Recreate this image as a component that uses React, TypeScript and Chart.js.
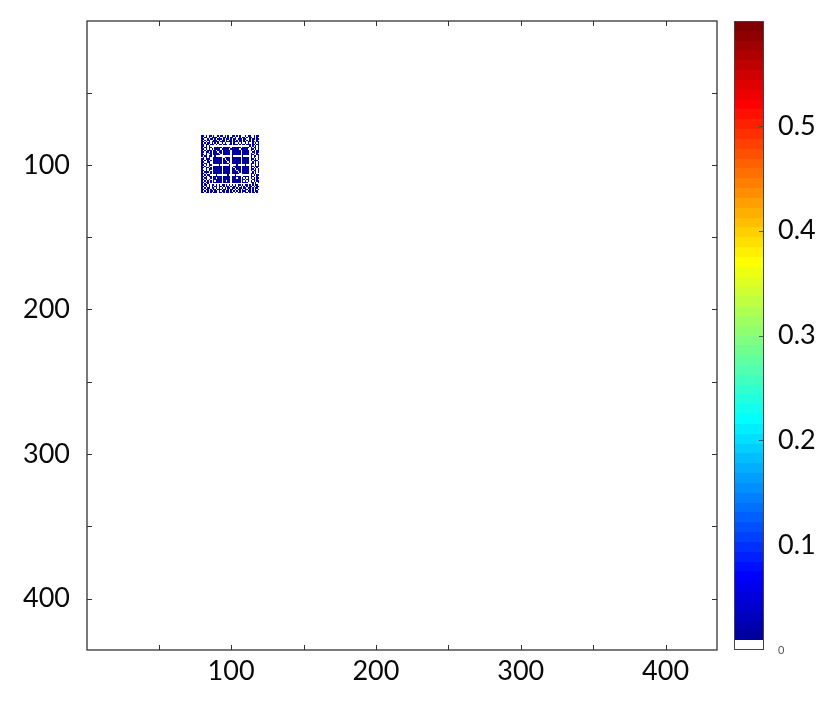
import React, { useEffect, useRef } from "react";
import { Chart, registerables } from "chart.js";

Chart.register(...registerables);

// ---------- data ----------
const MATRIX_SIZE = 435;
const BLOCK_START = 80; // first row / column index of the non-zero block
const CELL_VALUE = 0.015; // value of the non-zero cells ('#')
const axisTickValues = [50, 100, 150, 200, 250, 300, 350, 400];
const axisLabelValues = [100, 200, 300, 400];
const colorbarTicks = [0, 0.1, 0.2, 0.3, 0.4, 0.5];
const COLORBAR_MAX = 0.6;

// non-zero block, rows 80..119 x cols 80..119 ('#' = non-zero, '.' = 0)
const blockRows = [
  "##.#.##.#..#.##.#.#..##.#.#...#.##..#.##",
  "#.##.#.####.#..##.#.##.#..#.##.#.##.#.#.",
  "##..#.##.#.###.#.##.#.##.###.##..#.##.##",
  "#.#.##..###.#.##.#.##.#.#.##.#.#.#.#..#.",
  "##.#.#.#####.###.####.###.##.##.##.##.##",
  "#.#.##.#.#.#..#.#...#.#..#.#..#.#..#.#.#",
  "##.##.###.#.##.###.##.###.#.##.###.##.##",
  "##.#.#...........................#.#.#.#",
  "#.##.##..#####.#####.######.#####.#.##.#",
  "##.#.#.#.####.#####.######.#####..##.#.#",
  "#.#.###.##.###.#####.######.#####.#.#.##",
  "##.##.#.###.##.#####.######.#####..##.##",
  "#..#.##.####.#.#####.######.#####.#.#.#.",
  "##.#..#.#####..#####.######.#####.##..##",
  "#.##.##..#...........#......#.....#.##.#",
  ".#.#.#..######..####.######.#####.#.#..#",
  "##.###..######.#.###.######.#####.##.#.#",
  "#.#.#.#.######.##.##.######.#####.#.###.",
  "##..##..######.###.#.######.#####..#.#.#",
  "#.##.#..######.####..######.#####.##.#.#",
  "##.#.##.....#......#....#.....#...#..#.#",
  "#.#..#..######.#####..#####.#####.##.###",
  "##.##.#.######.#####.#.####.#####.#.#.#.",
  "#..#.##.######.#####.##.###.#####.##.#.#",
  "##.#.#..######.#####.###.##.#####.#.##.#",
  "#.###.#.######.#####.####.#.#####..#.#.#",
  "##.#..#.######.#####.#####..#####.##.#..",
  "#.#.##....#.......#....#..........#.#.##",
  "##.#.##.######.#####.######..####.##..#.",
  "#.##..#.##.###.#####.###.##.#.#.#.#.#.##",
  "##.#.#..######.#####.######.##.##..##.#.",
  "#.#.#.#.#.####.##.##.######.#.#.#.#.#.##",
  "##.##.#.######.#####.######.####..##.#.#",
  "#.#.#..............................#.#..",
  "#.##.#.##.#.#.##.#.#.#.#.##.#.##.#.#.##.",
  "##.#.#.#.##.##.#.##.#.##.#.#.#.#.##.#.##",
  "#.#.##.##.#.#.#.#.##.##.#.##.##.##.#.##.",
  "##.##.#.##.###.##.#.##.#.##.#.##.#.#.#.#",
  "#.#.#.##.##.#.##.##.#.#.#.#.###.##.#.##.",
  "##.##.#.###.##.#.##.##.#.##.#.##.#.##.#.",
];

// ---------- styling ----------
const FONT_FAMILY = "Lato, 'Open Sans', 'Liberation Sans', sans-serif";
const TEXT_COLOR = "#0a0a0a";
const FRAME_COLOR = "#333333";

// MATLAB-style jet(64) with the lowest entry replaced by white
function buildJet(m: number): string[] {
  const n = Math.ceil(m / 4);
  const u: number[] = [];
  for (let i = 1; i <= n; i++) u.push(i / n);
  for (let i = 1; i < n; i++) u.push(1);
  for (let i = n; i >= 1; i--) u.push(i / n);
  const g0 = Math.ceil(n / 2) - (m % 4 === 1 ? 1 : 0);
  const R = new Array(m).fill(0);
  const G = new Array(m).fill(0);
  const B = new Array(m).fill(0);
  u.forEach((val, k) => {
    const gi = g0 + k + 1;
    const ri = gi + n;
    const bi = gi - n;
    if (gi >= 1 && gi <= m) G[gi - 1] = val;
    if (ri >= 1 && ri <= m) R[ri - 1] = val;
    if (bi >= 1 && bi <= m) B[bi - 1] = val;
  });
  const cols: string[] = [];
  for (let i = 0; i < m; i++) {
    cols.push(
      `rgb(${Math.round(R[i] * 255)},${Math.round(G[i] * 255)},${Math.round(B[i] * 255)})`
    );
  }
  cols[0] = "rgb(255,255,255)";
  return cols;
}
const JET = buildJet(64);
function colorFor(v: number): string {
  const idx = Math.max(0, Math.min(63, Math.floor((v / COLORBAR_MAX) * 64)));
  return JET[idx];
}

function zeroPadding(s: any) {
  s.paddingTop = 0;
  s.paddingBottom = 0;
  s.paddingLeft = 0;
  s.paddingRight = 0;
}

const heatmapPlugin = {
  id: "heatmapCells",
  beforeDatasetsDraw(chart: any) {
    const { ctx, chartArea } = chart;
    const xs = chart.scales.x;
    const ys = chart.scales.y;
    ctx.save();
    ctx.beginPath();
    ctx.rect(chartArea.left, chartArea.top, chartArea.right - chartArea.left, chartArea.bottom - chartArea.top);
    ctx.clip();
    blockRows.forEach((row, r) => {
      for (let c = 0; c < row.length; c++) {
        if (row[c] !== "#") continue;
        const col = BLOCK_START + c;
        const rr = BLOCK_START + r;
        const x0 = Math.round(xs.getPixelForValue(col - 0.5));
        const x1 = Math.round(xs.getPixelForValue(col + 0.5));
        const ya = ys.getPixelForValue(rr - 0.5);
        const yb = ys.getPixelForValue(rr + 0.5);
        const y0 = Math.round(Math.min(ya, yb));
        const y1 = Math.round(Math.max(ya, yb));
        ctx.fillStyle = colorFor(CELL_VALUE);
        ctx.fillRect(x0, y0, Math.max(1, x1 - x0), Math.max(1, y1 - y0));
      }
    });
    ctx.restore();
  },
  afterDraw(chart: any) {
    const { ctx, chartArea } = chart;
    const xs = chart.scales.x;
    const ys = chart.scales.y;
    const { left, right, top, bottom } = chartArea;
    ctx.save();
    ctx.strokeStyle = FRAME_COLOR;
    ctx.lineWidth = 1.3;
    ctx.strokeRect(left, top, right - left, bottom - top);
    ctx.lineWidth = 1;
    const TL = 5;
    ctx.beginPath();
    axisTickValues.forEach((v) => {
      const px = Math.round(xs.getPixelForValue(v)) + 0.5;
      ctx.moveTo(px, bottom);
      ctx.lineTo(px, bottom - TL);
      ctx.moveTo(px, top);
      ctx.lineTo(px, top + TL);
      const py = Math.round(ys.getPixelForValue(v)) + 0.5;
      ctx.moveTo(left, py);
      ctx.lineTo(left + TL, py);
      ctx.moveTo(right, py);
      ctx.lineTo(right - TL, py);
    });
    ctx.stroke();
    ctx.restore();
  },
};

const colorbarPlugin = {
  id: "colorbarBands",
  afterDraw(chart: any) {
    const { ctx, chartArea } = chart;
    const ys = chart.scales.y;
    const { left, right, top, bottom } = chartArea;
    ctx.save();
    for (let i = 0; i < 64; i++) {
      const ya = ys.getPixelForValue((i * COLORBAR_MAX) / 64);
      const yb = ys.getPixelForValue(((i + 1) * COLORBAR_MAX) / 64);
      ctx.fillStyle = JET[i];
      const y0 = Math.round(Math.min(ya, yb));
      const y1 = Math.round(Math.max(ya, yb));
      ctx.fillRect(left, y0, right - left, y1 - y0);
    }
    ctx.strokeStyle = "#444444";
    ctx.lineWidth = 1;
    ctx.strokeRect(left + 0.5, top + 0.5, right - left - 1, bottom - top - 1);
    ctx.beginPath();
    colorbarTicks.forEach((v) => {
      if (v === 0) return;
      const py = Math.round(ys.getPixelForValue(v)) + 0.5;
      ctx.moveTo(right - 1, py);
      ctx.lineTo(right - 5, py);
    });
    ctx.strokeStyle = "rgba(60,60,60,0.8)";
    ctx.stroke();
    ctx.restore();
  },
};

export default function App() {
  const mainRef = useRef<HTMLCanvasElement | null>(null);
  const cbRef = useRef<HTMLCanvasElement | null>(null);

  useEffect(() => {
    if (!mainRef.current || !cbRef.current) return;
    const main = new Chart(mainRef.current, {
      type: "scatter",
      data: { datasets: [{ data: [], pointRadius: 0 }] },
      options: {
        responsive: false,
        animation: false,
        events: [],
        layout: { padding: { left: 0, top: 21, right: 113, bottom: 0 } },
        plugins: { legend: { display: false }, tooltip: { enabled: false } },
        scales: {
          x: {
            type: "linear",
            position: "bottom",
            min: 0.5,
            max: MATRIX_SIZE + 0.5,
            afterBuildTicks: (s: any) => {
              s.ticks = axisTickValues.map((v) => ({ value: v }));
            },
            afterFit: (s: any) => {
              s.height = 51;
              zeroPadding(s);
            },
            grid: { display: false, drawTicks: false },
            border: { display: false },
            ticks: {
              autoSkip: false,
              maxRotation: 0,
              padding: 5,
              color: TEXT_COLOR,
              font: { family: FONT_FAMILY, size: 27 },
              callback: (v: any) => (axisLabelValues.includes(Number(v)) ? String(v) : ""),
            },
          },
          y: {
            type: "linear",
            position: "left",
            reverse: true,
            min: 0.5,
            max: MATRIX_SIZE + 0.5,
            afterBuildTicks: (s: any) => {
              s.ticks = axisTickValues.map((v) => ({ value: v }));
            },
            afterFit: (s: any) => {
              s.width = 87;
              zeroPadding(s);
            },
            grid: { display: false, drawTicks: false },
            border: { display: false },
            ticks: {
              autoSkip: false,
              padding: 17,
              color: TEXT_COLOR,
              font: { family: FONT_FAMILY, size: 27 },
              callback: (v: any) => (axisLabelValues.includes(Number(v)) ? String(v) : ""),
            },
          },
        },
      },
      plugins: [heatmapPlugin],
    } as any);

    const cb = new Chart(cbRef.current, {
      type: "scatter",
      data: { datasets: [{ data: [], pointRadius: 0 }] },
      options: {
        responsive: false,
        animation: false,
        events: [],
        layout: { padding: { left: 14, top: 21, right: 0, bottom: 51 } },
        plugins: { legend: { display: false }, tooltip: { enabled: false } },
        scales: {
          x: { display: false, min: 0, max: 1 },
          y: {
            type: "linear",
            position: "right",
            min: 0,
            max: COLORBAR_MAX,
            afterBuildTicks: (s: any) => {
              s.ticks = colorbarTicks.map((v) => ({ value: v }));
            },
            afterFit: (s: any) => {
              s.width = 66;
              zeroPadding(s);
            },
            grid: { display: false, drawTicks: false },
            border: { display: false },
            ticks: {
              autoSkip: false,
              padding: 14,
              color: (c: any) => (c.tick && c.tick.value === 0 ? "#555555" : TEXT_COLOR),
              font: (c: any) =>
                c.tick && c.tick.value === 0
                  ? { family: FONT_FAMILY, size: 11 }
                  : { family: FONT_FAMILY, size: 27 },
              callback: (v: any) => (Number(v) === 0 ? "0" : Number(v).toFixed(1)),
            },
          },
        },
      },
      plugins: [colorbarPlugin],
    } as any);

    return () => {
      main.destroy();
      cb.destroy();
    };
  }, []);

  return (
    <div
      style={{
        position: "fixed",
        left: 0,
        top: 0,
        width: 830,
        height: 701,
        background: "#ffffff",
      }}
    >
      <canvas
        ref={mainRef}
        width={830}
        height={701}
        style={{ position: "absolute", left: 0, top: 0 }}
      />
      <canvas
        ref={cbRef}
        width={110}
        height={701}
        style={{ position: "absolute", left: 720, top: 0 }}
      />
    </div>
  );
}
